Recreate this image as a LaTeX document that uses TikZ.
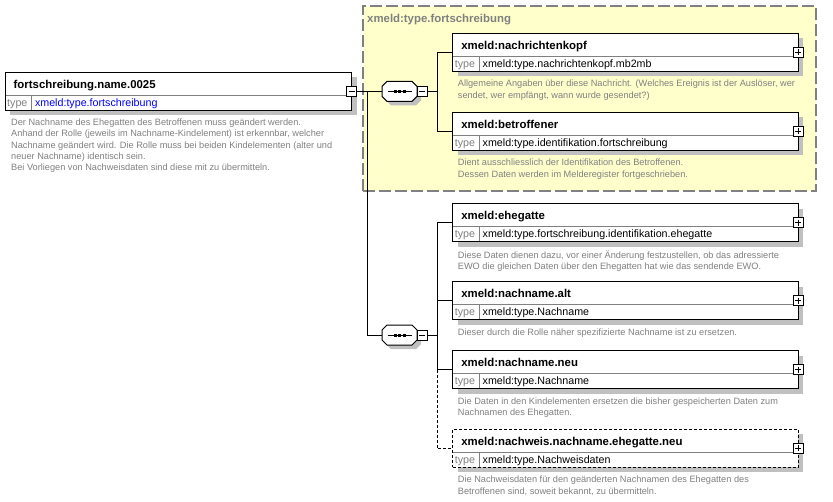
\documentclass[tikz,border=0pt]{standalone}
\usepackage{fontspec}
\setmainfont{Liberation Sans}
\usetikzlibrary{calc,shadows}
\definecolor{shadowc}{RGB}{192,192,192}
\definecolor{groupfill}{RGB}{255,255,204}
\definecolor{groupline}{RGB}{128,128,128}
\definecolor{greytext}{RGB}{128,128,128}
\definecolor{divc}{RGB}{128,128,128}
\definecolor{typeblue}{RGB}{0,0,255}
\newcommand\ftitle{\fontsize{11.4}{13}\selectfont\bfseries}
\newcommand\ftype{\fontsize{10.7}{12}\selectfont}
\newcommand\fdesc{\fontsize{9.2}{11.3}\selectfont}
\tikzset{
 elem/.style={draw=black, line width=1pt, fill=white, minimum width=345.6pt, minimum height=38pt, anchor=north west, inner sep=0pt, outer sep=0pt, drop shadow={shadow xshift=5pt, shadow yshift=-5pt, fill=shadowc, opacity=1}},
 optelem/.style={dash pattern=on 3pt off 2pt},
 divider/.style={draw=divc, line width=1pt},
 titletext/.style={anchor=base west, inner sep=0pt, font=\ftitle},
 typelabel/.style={anchor=base west, inner sep=0pt, font=\ftype, text=greytext},
 typetext/.style={anchor=base west, inner sep=0pt, font=\ftype},
 desctext/.style={anchor=north west, inner sep=0pt, font=\fdesc, text=greytext, align=left},
 btn/.style={draw=black, fill=white, line width=1pt, minimum size=10pt, inner sep=0pt, outer sep=0pt},
 conn/.style={draw=black, line width=1pt},
 optconn/.style={conn, dash pattern=on 3pt off 2pt},
 seqbox/.style={minimum width=35pt, minimum height=20pt, inner sep=0pt, outer sep=0pt},
}
\newcommand\xelem[6]{%
 \node[elem,#6] (#1) at (#2,#3) {};
 \draw[divider] ($(#1.north west)+(0.5,23)$) -- ($(#1.north east)+(-0.5,23)$);
 \draw[divider] ($(#1.north west)+(26.5,23)$) -- ($(#1.south west)+(26.5,-0.5)$);
 \node[titletext] (#1t) at ($(#1.north west)+(8.5,16)$) {#4};
 \node[typelabel] (#1k) at ($(#1.north west)+(2,34)$) {type};
 \node[typetext] (#1v) at ($(#1.north west)+(29.8,34)$) {#5};
 \node[btn] (#1b) at (#1.east) {};
}
\newcommand\plusbtn[1]{\draw[line width=1pt] ($(#1.west)+(2,0)$) -- ($(#1.east)+(-2,0)$); \draw[line width=1pt] ($(#1.north)+(0,2)$) -- ($(#1.south)+(0,-2)$);}
\newcommand\minusbtn[1]{\draw[line width=1pt] ($(#1.west)+(2,0)$) -- ($(#1.east)+(-2,0)$);}
\newcommand\octagon[3]{%
 \path[#1] ({#2-12.5},{#3-10}) -- ({#2+12.5},{#3-10}) -- ({#2+17.5},{#3-5}) -- ({#2+17.5},{#3+5}) -- ({#2+12.5},{#3+10}) -- ({#2-12.5},{#3+10}) -- ({#2-17.5},{#3+5}) -- ({#2-17.5},{#3-5}) -- cycle;}
\newcommand\seqsym[3]{%
 \octagon{fill=shadowc}{#2+4}{#3+4}
 \octagon{draw=black,fill=white,line width=1pt}{#2}{#3}
 \node[seqbox] (#1) at (#2,#3) {};
 \draw[line width=1pt] ($(#1.center)+(-12,0)$) -- ($(#1.center)+(12,0)$);
 \fill ($(#1.center)+(-6,-1.5)$) rectangle +(3,3);
 \fill ($(#1.center)+(-1.5,-1.5)$) rectangle +(3,3);
 \fill ($(#1.center)+(3,-1.5)$) rectangle +(3,3);
 \node[btn] (#1b) at ({#2+22.5},#3) {};
 \minusbtn{#1b}
}
\begin{document}
\begin{tikzpicture}[x=1pt,y=-1pt]
\useasboundingbox (0,0) rectangle (833,501);
\fill[white] (0,0) rectangle (833,501);
% group
\node[draw=groupline, fill=groupfill, line width=2pt, dash pattern=on 12pt off 4pt, minimum width=453pt, minimum height=185pt, anchor=north west, inner sep=0pt] (grp) at (362,5) {};
\node[anchor=base west, inner sep=0pt, font=\ftitle, text=greytext] (grpt) at (367,22.5) {xmeld:type.fortschreibung};
% root
\xelem{L}{5}{72.3}{fortschreibung.name.0025}{\textcolor{typeblue}{xmeld:type.fortschreibung}}{minimum width=346.7pt}
\minusbtn{Lb}
\node[desctext] (Ld) at ($(L.south west)+(6,8.3)$) {Der Nachname des Ehegatten des Betroffenen muss geändert werden.\\Anhand der Rolle (jeweils im Nachname-Kindelement) ist erkennbar, welcher\\Nachname geändert wird. Die Rolle muss bei beiden Kindelementen (alter und\\neuer Nachname) identisch sein.\\Bei Vorliegen von Nachweisdaten sind diese mit zu übermitteln.};
% sequences
\seqsym{s1}{399.5}{91.3}
\seqsym{s2}{399.5}{335}
% children
\xelem{e1}{452.7}{33.3}{xmeld:nachrichtenkopf}{xmeld:type.nachrichtenkopf.mb2mb}{}
\plusbtn{e1b}
\node[desctext] (e1d) at ($(e1.south west)+(5,8.8)$) {Allgemeine Angaben über diese Nachricht. (Welches Ereignis ist der Auslöser, wer\\sendet, wer empfängt, wann wurde gesendet?)};
\xelem{e2}{452.7}{112.3}{xmeld:betroffener}{xmeld:type.identifikation.fortschreibung}{}
\plusbtn{e2b}
\node[desctext] (e2d) at ($(e2.south west)+(5,8.8)$) {Dient ausschliesslich der Identifikation des Betroffenen.\\Dessen Daten werden im Melderegister fortgeschrieben.};
\xelem{e3}{452.7}{203.5}{xmeld:ehegatte}{xmeld:type.fortschreibung.identifikation.ehegatte}{}
\plusbtn{e3b}
\node[desctext] (e3d) at ($(e3.south west)+(5,8.8)$) {Diese Daten dienen dazu, vor einer Änderung festzustellen, ob das adressierte\\EWO die gleichen Daten über den Ehegatten hat wie das sendende EWO.};
\xelem{e4}{452.7}{281.5}{xmeld:nachname.alt}{xmeld:type.Nachname}{}
\plusbtn{e4b}
\node[desctext] (e4d) at ($(e4.south west)+(5,8.8)$) {Dieser durch die Rolle näher spezifizierte Nachname ist zu ersetzen.};
\xelem{e5}{452.7}{350.7}{xmeld:nachname.neu}{xmeld:type.Nachname}{}
\plusbtn{e5b}
\node[desctext] (e5d) at ($(e5.south west)+(5,8.8)$) {Die Daten in den Kindelementen ersetzen die bisher gespeicherten Daten zum\\Nachnamen des Ehegatten.};
\xelem{e6}{452.7}{429.3}{xmeld:nachweis.nachname.ehegatte.neu}{xmeld:type.Nachweisdaten}{optelem}
\plusbtn{e6b}
\node[desctext] (e6d) at ($(e6.south west)+(5,8.8)$) {Die Nachweisdaten für den geänderten Nachnamen des Ehegatten des\\Betroffenen sind, soweit bekannt, zu übermitteln.};
% connectors
\coordinate (j0) at (367,91.3);
\coordinate (c1) at (437,91.3);
\coordinate (c2) at (437,335);
\draw[conn] (Lb.east) -- (s1.west);
\draw[conn] (j0) |- (s2.west);
\draw[conn] (s1b.east) -- (c1);
\draw[conn] (c1) |- (e1.west);
\draw[conn] (c1) |- (e2.west);
\draw[conn] (s2b.east) -- (c2);
\draw[conn] (c2) |- (e3.west);
\draw[conn] (c2) |- (e4.west);
\draw[conn] (c2) |- (e5.west);
\draw[optconn] (e5.west -| c2) |- (e6.west);
\end{tikzpicture}
\end{document}
